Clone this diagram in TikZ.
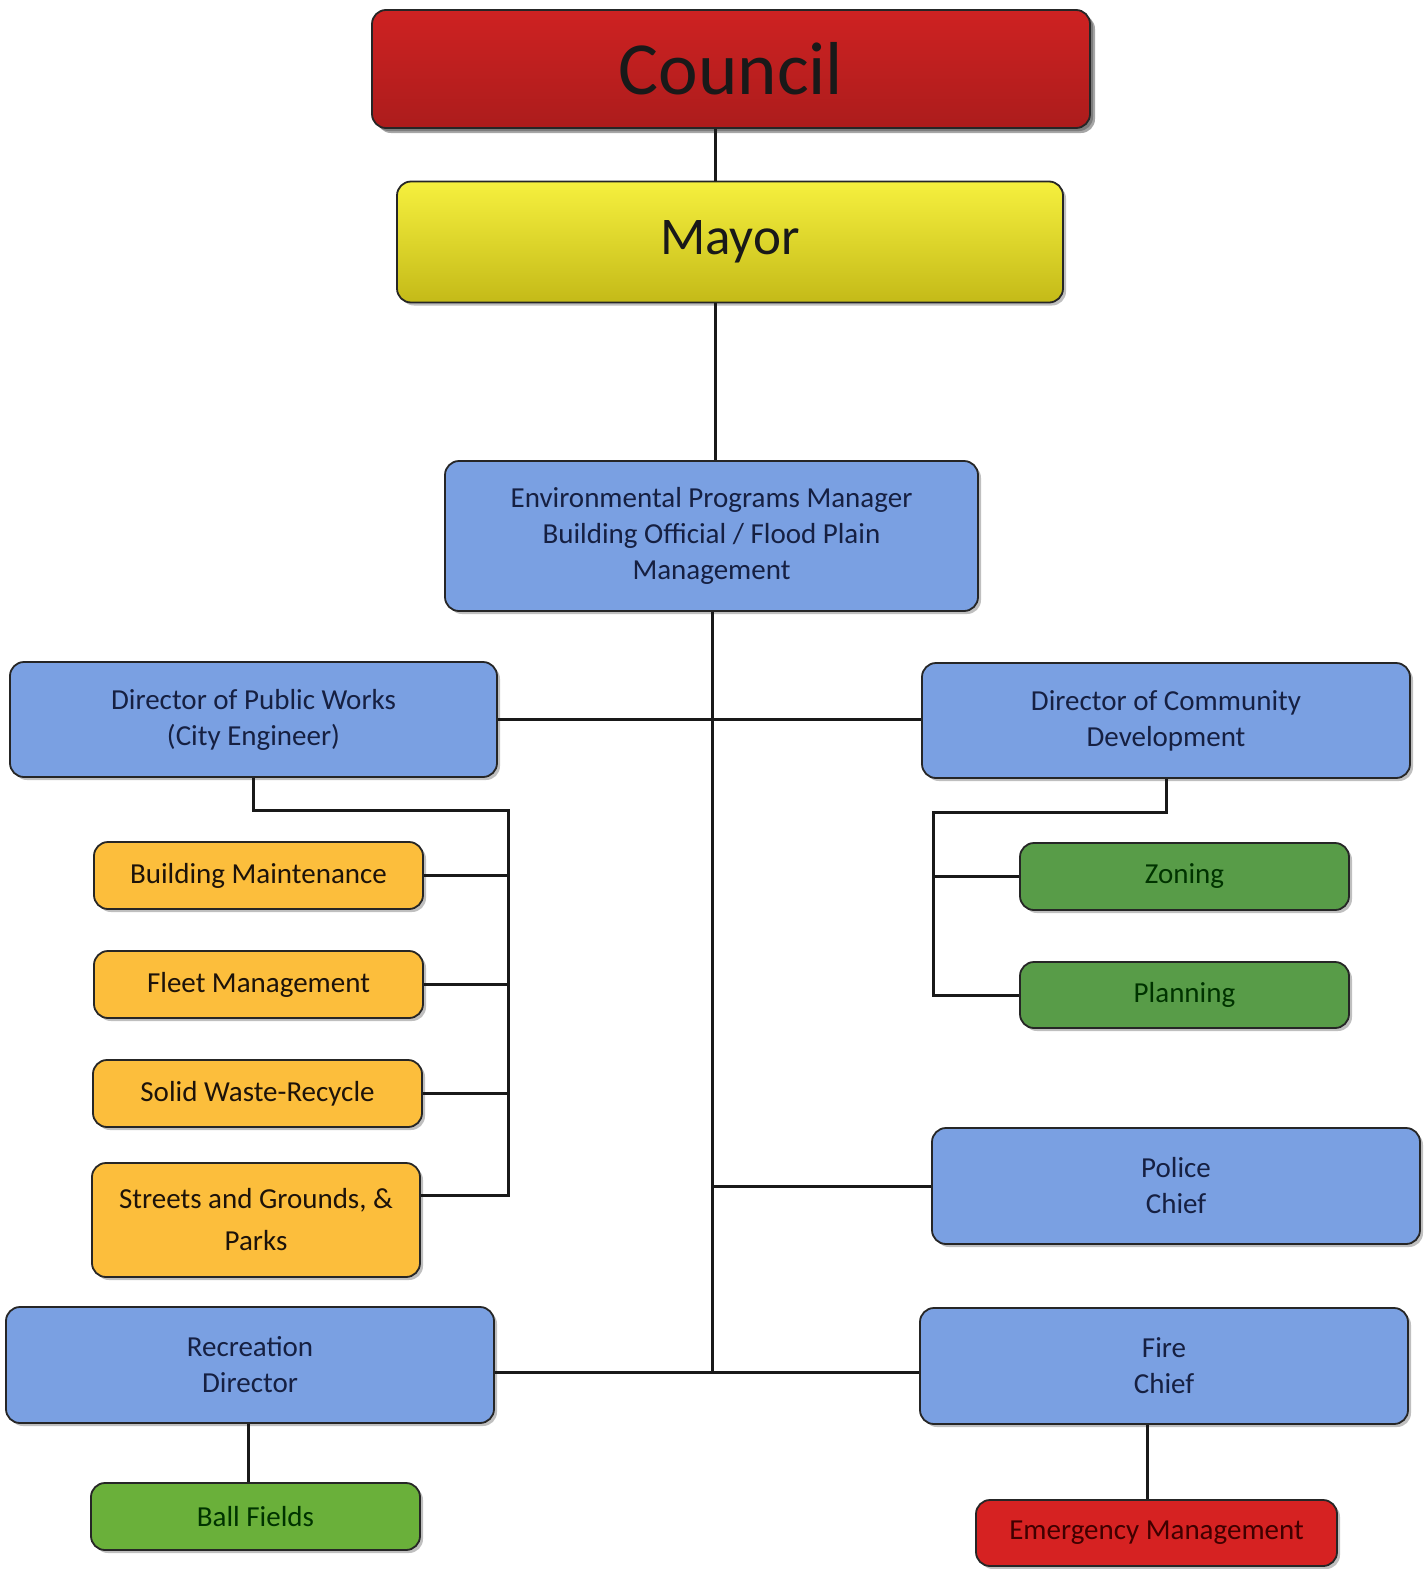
\documentclass[tikz,border=0pt]{standalone}
\usepackage{fontspec}
\setmainfont{Carlito}
\usetikzlibrary{shadows,calc}
\definecolor{txt}{RGB}{22,32,66}
\definecolor{boxblue}{RGB}{122,160,226}
\definecolor{boxorange}{RGB}{252,190,60}
\definecolor{boxgreen}{RGB}{88,156,72}
\definecolor{ballgreen}{RGB}{106,176,58}
\definecolor{emred}{RGB}{214,34,34}
\definecolor{redtop}{RGB}{206,34,34}
\definecolor{redbot}{RGB}{172,28,28}
\definecolor{yeltop}{RGB}{246,240,62}
\definecolor{yelbot}{RGB}{196,186,24}
\tikzset{
  base/.style={draw=black!85, line width=1.8pt, rounded corners=14pt, align=center,
    text=txt, font=\fontsize{29}{36}\selectfont,
    drop shadow={shadow xshift=3pt, shadow yshift=-3pt, fill=black, opacity=0.25}},
  bluebox/.style={base, fill=boxblue},
  orangebox/.style={base, fill=boxorange, text=black!85!brown},
  greenbox/.style={base, fill=boxgreen, text=black!80!green},
  ballbox/.style={base, fill=ballgreen, text=black!80!green},
  emredbox/.style={base, fill=emred, text=black!75!red},
  conn/.style={line width=3pt, draw=black!90}
}
\begin{document}
\begin{tikzpicture}[x=1pt,y=-1pt]
\useasboundingbox[fill=white] (0,0) rectangle (1425,1569);
% nodes
\node[base, top color=redtop, bottom color=redbot, text=black!90,
      font=\fontsize{75}{78}\selectfont, minimum width=718pt, minimum height=118pt,
      drop shadow={shadow xshift=5pt, shadow yshift=-5pt, fill=black, opacity=0.35}]
      (council) at (731,69) {Council};
\node[base, top color=yeltop, bottom color=yelbot, text=black!90,
      font=\fontsize{53}{58}\selectfont, minimum width=666pt, minimum height=121pt]
      (mayor) at (730,242) {Mayor};
\node[bluebox, minimum width=533pt, minimum height=150pt] (env) at (711.5,536)
  {Environmental Programs Manager\\Building Official / Flood Plain\\Management};
\node[bluebox, minimum width=487pt, minimum height=115pt] (pw) at (253.5,719.5)
  {Director of Public Works\\(City Engineer)};
\node[bluebox, minimum width=488pt, minimum height=115pt] (cd) at (1166,720.5)
  {Director of Community\\Development};
\node[orangebox, minimum width=329pt, minimum height=67pt] (bm) at (258.5,875.5) {Building Maintenance};
\node[orangebox, minimum width=329pt, minimum height=67pt] (fm) at (258.5,984.5) {Fleet Management};
\node[orangebox, minimum width=329pt, minimum height=67pt] (sw) at (257.5,1093.5) {Solid Waste-Recycle};
\node[orangebox, minimum width=328pt, minimum height=114pt] (sg) at (256,1220)
  {Streets and Grounds, \&\\[6pt]Parks};
\node[greenbox, minimum width=329pt, minimum height=67pt] (zo) at (1184.5,876.5) {Zoning};
\node[greenbox, minimum width=329pt, minimum height=66pt] (pl) at (1184.5,995) {Planning};
\node[bluebox, minimum width=488pt, minimum height=116pt] (po) at (1176,1186) {Police\\Chief};
\node[bluebox, minimum width=488pt, minimum height=116pt] (rd) at (250,1365) {Recreation\\Director};
\node[bluebox, minimum width=488pt, minimum height=116pt] (fc) at (1164,1366) {Fire\\Chief};
\node[ballbox, minimum width=329pt, minimum height=67pt] (bf) at (255.5,1516.5) {Ball Fields};
\node[emredbox, minimum width=361pt, minimum height=66pt] (em) at (1156.5,1533) {Emergency Management};
% connectors
\coordinate (pwbus) at (508,810);
\coordinate (cdbus) at (933,812);
\coordinate (sgjoin) at ($(sg.east)+(0,-25)$);
\coordinate (rdjoin) at ($(rd.east)+(0,7)$);
\draw[conn] ([xshift=-16pt]council.south) -- ([xshift=-16pt]council.south |- mayor.north);
\draw[conn] ([xshift=-15pt]mayor.south) -- ([xshift=-15pt]mayor.south |- env.north);
\draw[conn] ([xshift=1pt]env.south) -- ([xshift=1pt]env.south |- rdjoin);
\draw[conn] (pw.east) -- (pw.east -| cd.west);
\draw[conn] (rdjoin) -- (rdjoin -| fc.west);
\draw[conn] ([xshift=1pt]env.south |- po.west) -- (po.west);
\draw[conn] (pw.south) |- (pwbus) -- (pwbus |- sgjoin) -- (sgjoin);
\draw[conn] (bm.east) -- (bm.east -| pwbus);
\draw[conn] (fm.east) -- (fm.east -| pwbus);
\draw[conn] (sw.east) -- (sw.east -| pwbus);
\draw[conn] (cd.south) |- (cdbus) -- (cdbus |- pl.west) -- (pl.west);
\draw[conn] (zo.west) -- (zo.west -| cdbus);
\draw[conn] ([xshift=-2pt]rd.south) -- ([xshift=-2pt]rd.south |- bf.north);
\draw[conn] ([xshift=-17pt]fc.south) -- ([xshift=-17pt]fc.south |- em.north);
\end{tikzpicture}
\end{document}
